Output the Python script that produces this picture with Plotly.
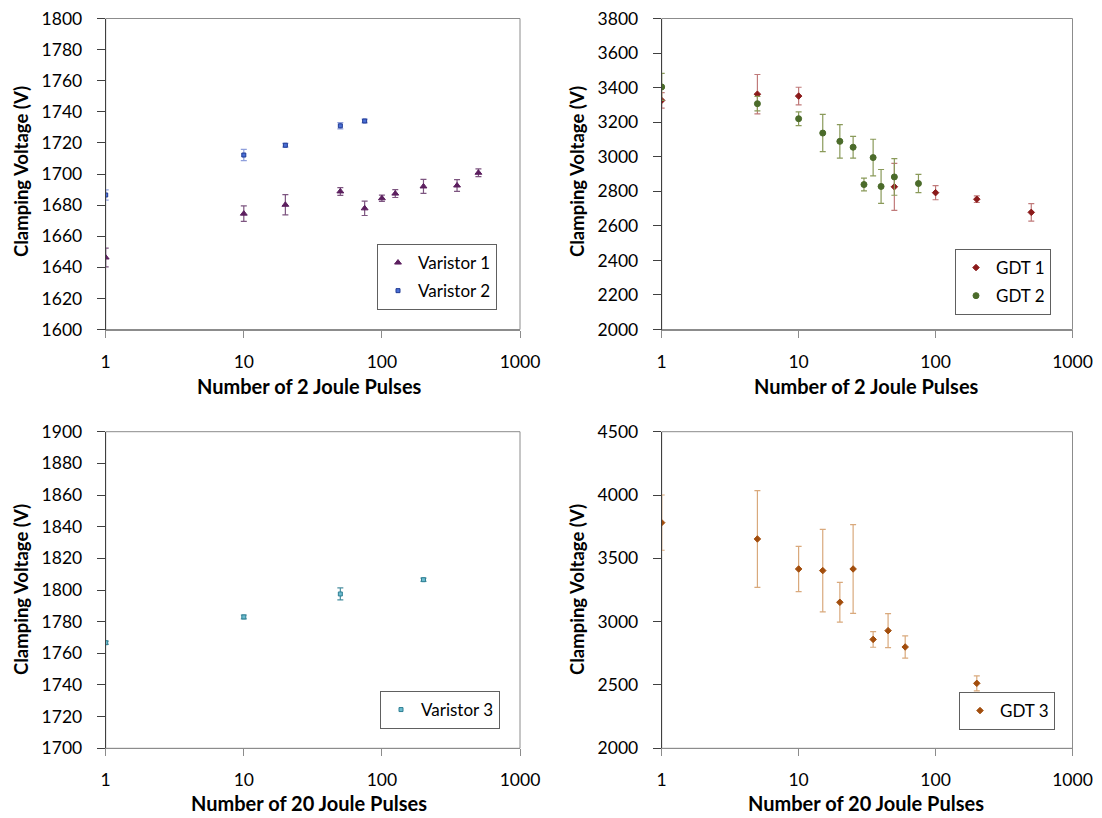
import plotly.graph_objects as go

# ---------------- data ----------------
v1_x = [1, 10, 20, 50, 75, 100, 125, 200, 350, 500]
v1_y = [1646.3, 1674.5, 1680.2, 1688.8, 1677.9, 1684.4, 1687.4, 1692.0, 1692.6, 1700.8]
v1_e = [6.0, 5.0, 6.5, 2.5, 4.6, 2.0, 2.5, 4.5, 3.8, 2.5]

v2_x = [1, 10, 20, 50, 75]
v2_y = [1686.5, 1712.2, 1718.5, 1731.0, 1734.1]
v2_e = [3.3, 3.6, 1.2, 2.0, 1.2]

g1_x = [1, 5, 10, 50, 100, 200, 500]
g1_y = [3326, 3362, 3351, 2826, 2792, 2754, 2678]
g1_e = [45, 114, 51, 136, 41, 19, 51]

g2_x = [1, 5, 10, 15, 20, 25, 30, 35, 40, 50, 75]
g2_y = [3404, 3307, 3220, 3137, 3089, 3055, 2839, 2995, 2828, 2883, 2845]
g2_e = [78, 42, 40, 108, 97, 63, 37, 106, 98, 106, 53]

v3_x = [1, 10, 50, 200]
v3_y = [1766.7, 1783.0, 1797.5, 1806.5]
v3_e = [1.0, 1.2, 3.8, 1.0]

g3_x = [1, 5, 10, 15, 20, 25, 35, 45, 60, 200]
g3_y = [3782, 3653, 3416, 3403, 3153, 3416, 2860, 2929, 2800, 2513]
g3_e = [218, 382, 179, 326, 157, 351, 62, 134, 88, 59]

x_ticks = [1, 10, 100, 1000]

# ---------------- layout geometry ----------------
# The page body has an 8px margin, so the figure starts 8px in.
OFF = 8
W, H = 1102 - OFF, 818 - OFF
FONT = "Lato"


def px(x):
    return (x - OFF) / W


def py(y):
    return 1 - (y - OFF) / H


xl = [px(105.7), px(520)]
xr = [px(661.7), px(1072.5)]
yt = [py(329.5), py(18.5)]
yb = [py(748.3), py(431.7)]

fig = go.Figure()


def add(x, y, e, name, xa, ya, legend, sym, size, color, line_color, err_color):
    fig.add_trace(go.Scatter(
        x=x, y=y, mode="markers", name=name, xaxis=xa, yaxis=ya, legend=legend,
        legendgroup=name,
        marker=dict(symbol=sym, size=size, color=color,
                    line=dict(color=line_color, width=1)),
        error_y=dict(type="data", array=e, visible=True, color=err_color,
                     thickness=1.2, width=3),
    ))


add(v1_x, v1_y, v1_e, "Varistor 1", "x", "y", "legend", "triangle-up", 6,
    "#5c1f5f", "#5c1f5f", "#7d5580")
add(v2_x, v2_y, v2_e, "Varistor 2", "x", "y", "legend", "square", 4,
    "#4a6fd6", "#1f3a93", "#8f9fdc")
add(g1_x, g1_y, g1_e, "GDT 1", "x2", "y2", "legend2", "diamond", 5,
    "#8b1a1a", "#8b1a1a", "#c07a7a")
add(g2_x, g2_y, g2_e, "GDT 2", "x2", "y2", "legend2", "circle", 6,
    "#4b6b2a", "#4b6b2a", "#8a9a5a")
add(v3_x, v3_y, v3_e, "Varistor 3", "x3", "y3", "legend3", "square", 4,
    "#6cbccf", "#2f7f93", "#4b8fa0")
add(g3_x, g3_y, g3_e, "GDT 3", "x4", "y4", "legend4", "diamond", 5,
    "#a24d0c", "#a24d0c", "#d9a97c")

tickfont = dict(family=FONT, size=17.5, color="#000000")


def xaxis(domain, anchor):
    return dict(domain=domain, anchor=anchor, type="log", range=[0, 3],
                tickvals=x_ticks, ticktext=[str(v) for v in x_ticks],
                ticks="outside", ticklen=7, tickcolor="#8c8c8c",
                showline=True, linecolor="#8c8c8c", linewidth=1,
                showgrid=False, zeroline=False, tickfont=tickfont,
                ticklabelstandoff=9, automargin=False, ticklabeloverflow="allow")


def yaxis(domain, anchor, rng, dtick):
    return dict(domain=domain, anchor=anchor, range=rng, dtick=dtick,
                tick0=rng[0], ticks="outside", ticklen=8, tickcolor="#404040",
                showline=True, linecolor="#404040", linewidth=1,
                showgrid=False, zeroline=False, tickfont=tickfont,
                ticklabelstandoff=11, automargin=False, ticklabeloverflow="allow")


def legend(x1, y1):
    return dict(x=px(x1), y=py(y1), xanchor="right", yanchor="bottom",
                bgcolor="white", bordercolor="#606060", borderwidth=1,
                font=dict(family=FONT, size=17, color="#000000"),
                itemsizing="trace", itemwidth=30, tracegroupgap=3)


fig.update_layout(
    width=W, height=H, margin=dict(l=0, r=0, t=0, b=0, autoexpand=False),
    paper_bgcolor="white", plot_bgcolor="white",
    font=dict(family=FONT, size=16, color="#000000"),
    xaxis=xaxis(xl, "y"), yaxis=yaxis(yt, "x", [1600, 1800], 20),
    xaxis2=xaxis(xr, "y2"), yaxis2=yaxis(yt, "x2", [2000, 3800], 200),
    xaxis3=xaxis(xl, "y3"), yaxis3=yaxis(yb, "x3", [1700, 1900], 20),
    xaxis4=xaxis(xr, "y4"), yaxis4=yaxis(yb, "x4", [2000, 4500], 500),
    legend=legend(497, 310),
    legend2=legend(1051, 315),
    legend3=legend(500, 729),
    legend4=legend(1055, 730),
    showlegend=True,
)

# frames (top / right borders in light gray)
for xa, ya in [("x", "y"), ("x2", "y2"), ("x3", "y3"), ("x4", "y4")]:
    fig.add_shape(type="rect", xref=f"{xa} domain", yref=f"{ya} domain",
                  x0=0, x1=1, y0=0, y1=1, line=dict(color="#8c8c8c", width=1),
                  layer="below")

# axis titles as annotations
ytitle = "Clamping Voltage (V)"
for xc, yc in [(21, 172), (577, 172), (21, 590), (577, 590)]:
    fig.add_annotation(text=f"<b>{ytitle}</b>", x=px(xc), y=py(yc),
                       xref="paper", yref="paper", textangle=-90, showarrow=False,
                       xanchor="center", yanchor="middle",
                       font=dict(family=FONT, size=18.5))
for txt, xc, yc in [("Number of 2 Joule Pulses", 309, 386),
                    ("Number of 2 Joule Pulses", 866, 386),
                    ("Number of 20 Joule Pulses", 309, 803),
                    ("Number of 20 Joule Pulses", 866, 803)]:
    fig.add_annotation(text=f"<b>{txt}</b>", x=px(xc), y=py(yc),
                       xref="paper", yref="paper", showarrow=False,
                       xanchor="center", yanchor="middle",
                       font=dict(family=FONT, size=20))

fig.write_html("out.html")
